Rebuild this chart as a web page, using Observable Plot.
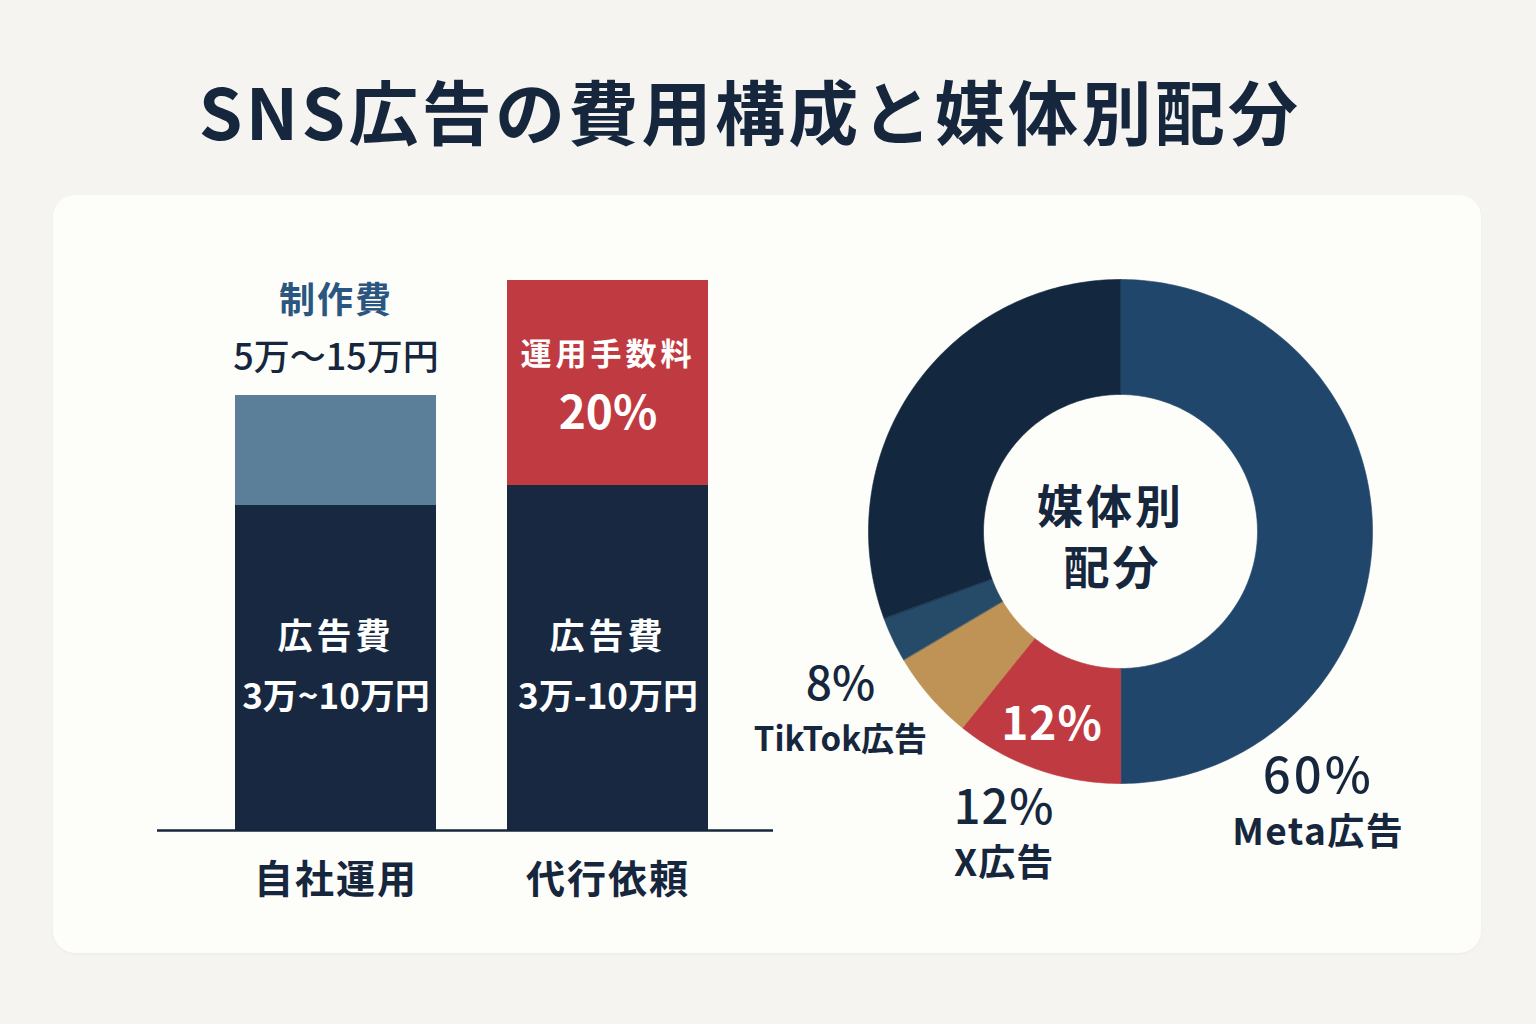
<!DOCTYPE html>
<html lang="ja">
<head>
<meta charset="utf-8">
<script src="https://cdn.jsdelivr.net/npm/d3@7"></script>
<script src="https://cdn.jsdelivr.net/npm/@observablehq/plot@0.6"></script>
<style>
  html, body { margin: 0; padding: 0; }
  body {
    width: 1536px; height: 1024px; position: relative; overflow: hidden;
    background: #f5f4f1;
    font-family: "Noto Sans CJK JP", "Noto Sans", sans-serif;
  }
  #title {
    position: absolute; left: 0; top: 72px; width: 1500px;
    text-align: center; font-size: 70px; line-height: 76px; font-weight: 700;
    letter-spacing: 3.3px; color: #15263d;
  }
  #card {
    position: absolute; left: 53px; top: 195px; width: 1428px; height: 758px;
    background: #fdfdfa; border-radius: 22px;
    box-shadow: 0 1px 3px rgba(0,0,0,0.04);
  }
  #bars { position: absolute; left: 100px; top: 230px; }
  #donut { position: absolute; left: 730px; top: 260px; }
</style>
</head>
<body>
<div id="title">SNS広告の費用構成と媒体別配分</div>
<div id="card"></div>
<div id="bars"></div>
<div id="donut"></div>
<script>
// ---------- Data: cost structure (bar chart) ----------
const categories = ["自社運用", "代行依頼"];
const adCost = [6.5, 6.9];                     // 広告費 segment height (relative)
const upperCost = [2.2, 4.1];                  // 制作費 / 運用手数料 segment height (relative)
const upperParts = ["制作費", "運用手数料"];
const adLabels = ["広告費\n3万~10万円", "広告費\n3万-10万円"];
const productionLabel = ["制作費", "5万～15万円"];
const feeLabel = ["運用手数料", "20%"];

// ---------- Data: media allocation (donut) ----------
const mediaNames = ["Meta広告", "X広告", "TikTok広告", "その他A", "その他B"];
const mediaShares = [50, 10.8, 5.7, 2.9, 30.6];  // arc sizes as drawn
const mediaPctLabels = ["60%", "12%", "8%", "", ""];
const centerLabel = ["媒体別", "配分"];

// ---------- Styles ----------
const FONT = "Noto Sans CJK JP, Noto Sans, sans-serif";
const NAVY = "#15263d";
const partDomain = ["広告費", "制作費", "運用手数料"];
const partColors = ["#172840", "#5b7f99", "#c03b41"];
const mediaColors = ["#21466b", "#c03b41", "#bf9355", "#264b68", "#13273f"];
const letterSpacing = {
  "運用手数料": 4, "広告費": 4, "制作費": 2, "自社運用": 2, "代行依頼": 2,
  "Meta広告": 1.5, "X広告": 1, "60%": 3, "12%": 1, "媒体別": 3, "配分": 3
};
function applySpacing(svg) {
  svg.querySelectorAll("text, tspan").forEach(t => {
    if (t.children.length) return;
    const s = letterSpacing[t.textContent];
    if (s) { t.style.letterSpacing = s + "px"; }
  });
}

// ---------- Bar chart ----------
const rows = categories.flatMap((c, i) => [
  {category: c, part: "広告費", y1: 0, y2: adCost[i], label: adLabels[i]},
  {category: c, part: upperParts[i], y1: adCost[i], y2: adCost[i] + upperCost[i]}
]);
const adRows = rows.filter(d => d.part === "広告費");
const prodRows = rows.filter(d => d.part === "制作費");
const feeRows = rows.filter(d => d.part === "運用手数料");
const mid = d => (d.y1 + d.y2) / 2;
const adLabelY = d3.min(adCost) / 2;   // common label height inside the 広告費 segments

const bars = Plot.plot({
  width: 720, height: 680,
  marginLeft: 57, marginRight: 47, marginTop: 50, marginBottom: 80,
  style: {background: "transparent", fontFamily: FONT, color: NAVY, overflow: "visible"},
  x: {domain: categories, padding: 0.26, align: 0.545, label: null},
  y: {domain: [0, 11], axis: null},
  color: {domain: partDomain, range: partColors},
  marks: [
    Plot.barY(rows, {x: "category", y1: "y1", y2: "y2", fill: "part"}),
    Plot.ruleY([0], {stroke: NAVY, strokeWidth: 2.5}),
    Plot.axisX({tickSize: 0, tickPadding: 35, fontSize: 39, fontWeight: 700, label: null}),
    Plot.text(adRows, {x: "category", y: () => adLabelY, text: "label", dy: -8, fill: "white",
      fontSize: 35, fontWeight: 700, lineHeight: 1.72, fontFamily: FONT}),
    Plot.text(feeRows, {x: "category", y: mid, text: () => feeLabel[0], dy: -28,
      fill: "white", fontSize: 31, fontWeight: 700, fontFamily: FONT}),
    Plot.text(feeRows, {x: "category", y: mid, text: () => feeLabel[1], dy: 31,
      fill: "white", fontSize: 46, fontWeight: 700, fontFamily: FONT}),
    Plot.text(prodRows, {x: "category", y: "y2", text: () => productionLabel[0], dy: -94,
      fill: "#2b5680", fontSize: 36, fontWeight: 700, fontFamily: FONT}),
    Plot.text(prodRows, {x: "category", y: "y2", text: () => productionLabel[1], dy: -37,
      fill: NAVY, fontSize: 36, fontWeight: 500, fontFamily: FONT})
  ]
});
applySpacing(bars);
document.getElementById("bars").append(bars);

// ---------- Donut ----------
const R_OUT = 252, R_IN = 137;
const total = d3.sum(mediaShares);
let cum = 0;
const segs = mediaNames.map((name, i) => {
  const a0 = cum / total * 360;
  cum += mediaShares[i];
  const a1 = cum / total * 360;
  return {name, a0, a1, pct: mediaPctLabels[i]};
});
const rad = a => a * Math.PI / 180;
const polar = (a, r) => ({x: r * Math.sin(rad(a)), y: r * Math.cos(rad(a))});
const ringPts = segs.flatMap(s => {
  const n = Math.max(2, Math.ceil(s.a1 - s.a0));
  const outer = d3.range(n + 1).map(k => ({seg: s.name, ...polar(s.a0 + (s.a1 - s.a0) * k / n, R_OUT)}));
  const inner = d3.range(n, -1, -1).map(k => ({seg: s.name, ...polar(s.a0 + (s.a1 - s.a0) * k / n, R_IN)}));
  return outer.concat(inner);
});

// outside label placement: fraction along the arc, radius factor, font sizes
const outsidePlacement = {
  "Meta広告":   {t: 0.80, k: 1.335, pctSize: 49, nameSize: 37},
  "X広告":      {t: 0.54, k: 1.29,  pctSize: 47, nameSize: 37},
  "TikTok広告": {t: 0.90, k: 1.32,  pctSize: 46, nameSize: 33}
};
const outside = segs.filter(s => outsidePlacement[s.name]).map(s => {
  const p = outsidePlacement[s.name];
  return {...s, ...p, ...polar(s.a0 + (s.a1 - s.a0) * p.t, R_OUT * p.k)};
});
const xSeg = segs[1];
const innerLabel = [{...polar((xSeg.a0 + xSeg.a1) / 2, 206), text: xSeg.pct}];

const donut = Plot.plot({
  width: 700, height: 640, margin: 0,
  style: {background: "transparent", fontFamily: FONT, color: NAVY, overflow: "visible"},
  x: {domain: [-390, 310], axis: null},
  y: {domain: [-369, 271], axis: null},
  color: {domain: mediaNames, range: mediaColors},
  marks: [
    Plot.line(ringPts, {x: "x", y: "y", z: "seg", fill: "seg", stroke: "seg",
      strokeWidth: 0.6, curve: "linear-closed"}),
    Plot.text(innerLabel, {x: "x", y: "y", text: "text", fill: "white",
      fontSize: 46, fontWeight: 700, fontFamily: FONT}),
    Plot.text(outside, {x: "x", y: "y", text: "pct", dy: -26, fill: NAVY,
      fontSize: d => d.pctSize, fontWeight: 500, fontFamily: FONT}),
    Plot.text(outside, {x: "x", y: "y", text: "name", dy: 29, fill: NAVY,
      fontSize: d => d.nameSize, fontWeight: 700, fontFamily: FONT}),
    Plot.text([centerLabel[0]], {x: () => 0, y: () => 0, text: d => d, dx: -10, dy: -23,
      fill: NAVY, fontSize: 46, fontWeight: 700, fontFamily: FONT}),
    Plot.text([centerLabel[1]], {x: () => 0, y: () => 0, text: d => d, dx: -8, dy: 38,
      fill: NAVY, fontSize: 46, fontWeight: 700, fontFamily: FONT})
  ]
});
applySpacing(donut);
document.getElementById("donut").append(donut);
</script>
</body>
</html>
